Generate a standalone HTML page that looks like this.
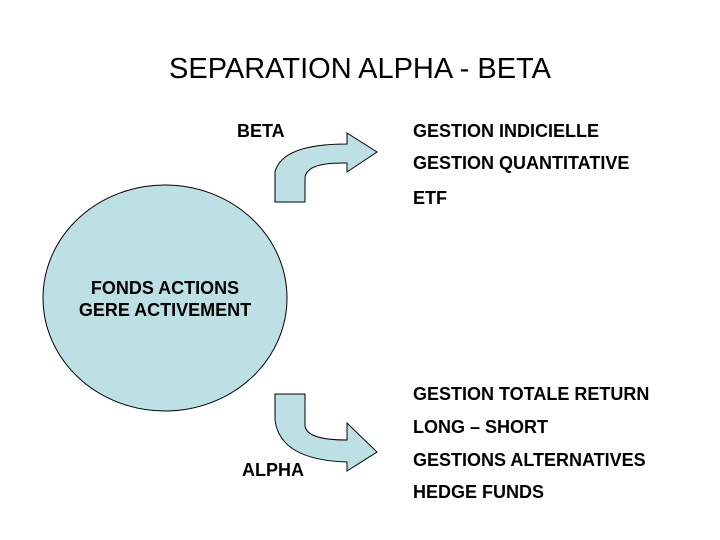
<!DOCTYPE html>
<html><head><meta charset="utf-8"><style>
html,body{margin:0;padding:0;background:#fff;width:720px;height:540px;overflow:hidden}
svg{display:block}
text{font-family:"Liberation Sans",Arial,sans-serif;fill:#000}
.b{font-weight:bold;font-size:18px}
</style></head><body>
<svg width="720" height="540" viewBox="0 0 720 540">
<text x="360" y="78" text-anchor="middle" font-size="29">SEPARATION ALPHA - BETA</text>
<text class="b" x="237" y="137">BETA</text>
<text class="b" x="413" y="137">GESTION INDICIELLE</text>
<text class="b" x="413" y="169">GESTION QUANTITATIVE</text>
<text class="b" x="413" y="204">ETF</text>
<ellipse cx="165" cy="298" rx="122" ry="113" fill="#bde0e4" stroke="#000" stroke-width="1"/>
<text class="b" x="165" y="294" text-anchor="middle">FONDS ACTIONS</text>
<text class="b" x="165" y="316" text-anchor="middle">GERE ACTIVEMENT</text>
<path d="M275,202 L275,172 Q282,144 347,144 L347,133 L377,152 L347,172 L347,163 Q306,162 305,178 L305,202 Z" fill="#bde0e4" stroke="#000" stroke-width="1"/>
<path d="M275,394 L305,394 L305,426 Q307,440 347,440 L347,423 L377,452 L347,471 L347,462 Q280,460 275,420 Z" fill="#bde0e4" stroke="#000" stroke-width="1"/>
<text class="b" x="413" y="400">GESTION TOTALE RETURN</text>
<text class="b" x="413" y="433">LONG – SHORT</text>
<text class="b" x="413" y="466">GESTIONS ALTERNATIVES</text>
<text class="b" x="413" y="498">HEDGE FUNDS</text>
<text class="b" x="242" y="476">ALPHA</text>
</svg>
</body></html>
